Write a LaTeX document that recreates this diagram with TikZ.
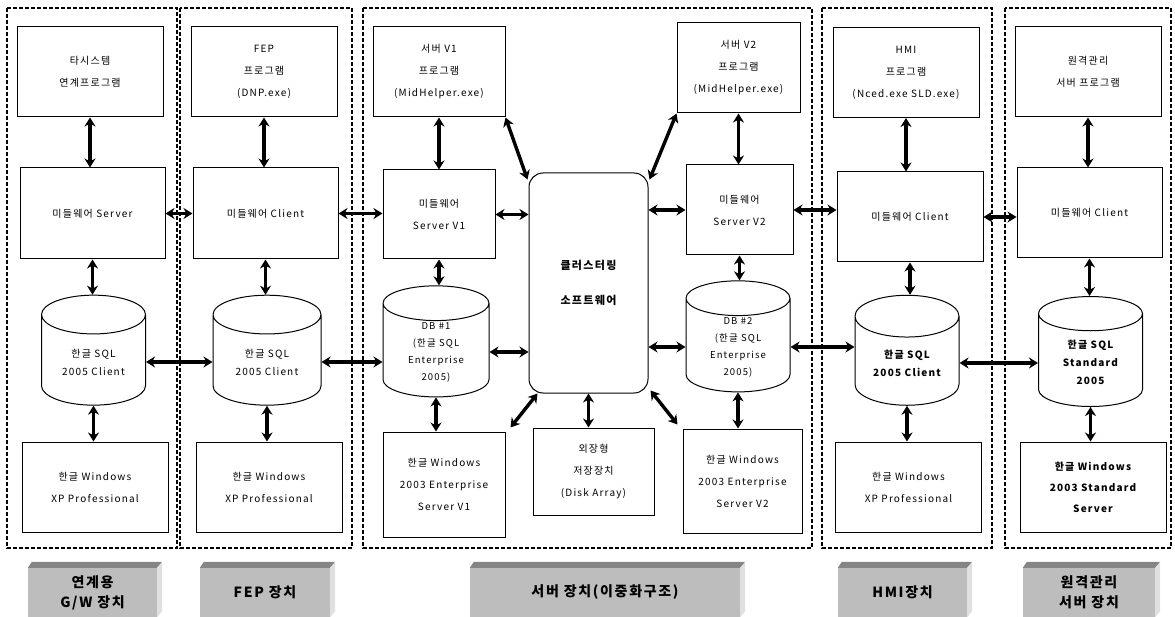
\documentclass[tikz,border=0pt]{standalone}
\usepackage{fontspec}
\usepackage{tikz}
\usetikzlibrary{arrows.meta,shapes.geometric}
\newfontfamily\kr[LetterSpace=12]{Noto Sans CJK KR}

\begin{document}
\begin{tikzpicture}[x=1pt,y=-1pt,
    box/.style={draw,line width=1pt,fill=white,align=center,inner sep=2pt,
        font=\kr\fontsize{10}{22}\selectfont,minimum width=146,minimum height=90},
    db/.style={draw,line width=1pt,fill=white,cylinder,shape border rotate=90,aspect=0.6,
        align=center,inner sep=1pt,font=\kr\fontsize{10}{18}\selectfont,
        minimum width=104,minimum height=110},
    dbl/.style={line width=3.4pt,{Stealth[length=9pt,width=11pt]}-{Stealth[length=9pt,width=11pt]}},
    grp/.style={line width=2.2pt,dash pattern=on 4pt off 2pt},
    lab/.style={fill=black!26,align=center,inner sep=0pt,minimum height=49,
        font=\kr\bfseries\fontsize{14}{20}\selectfont},
    labtop/.style={fill=black!48},
    labside/.style={fill=black!12}]
    \useasboundingbox (0,0) rectangle (1175,617);

    % device groups
    \draw[grp] (7,8) rectangle (177,548);
    \draw[grp] (180,8) rectangle (352,548);
    \draw[grp] (363,8) rectangle (812,548);
    \draw[grp] (822,8) rectangle (992,548);
    \draw[grp] (1005,8) rectangle (1171,548);

    % G/W
    \node[box] (t1) at (90,72) {타시스템\\연계프로그램};
    \node[box,minimum width=145,minimum height=91] (m1) at (92.5,213.5) {미들웨어 Server};
    \node[db] (d1) at (93.5,362) {한글 SQL\\2005 Client};
    \node[box] (w1) at (95,487) {한글 Windows\\XP Professional};

    % FEP
    \node[box] (t2) at (264,72) {FEP\\프로그램\\(DNP.exe)};
    \node[box,minimum width=145,minimum height=91] (m2) at (265.5,213.5) {미들웨어 Client};
    \node[db,minimum width=108] (d2) at (267,362) {한글 SQL\\2005 Client};
    \node[box] (w2) at (269,487) {한글 Windows\\XP Professional};

    % server (duplex)
    \node[box,minimum width=132] (t3) at (439,72) {서버 V1\\프로그램\\(MidHelper.exe)};
    \node[box,minimum width=112,minimum height=89] (m3) at (439,214.5) {미들웨어\\Server V1};
    \node[db,minimum width=106,font=\kr\fontsize{9.5}{17}\selectfont] (d3) at (436,352) {DB \#1\\(한글 SQL\\Enterprise\\2005)};
    \node[box,minimum width=122,minimum height=105] (w3) at (444,484.5) {한글 Windows\\2003 Enterprise\\Server V1};
    \node[box,rounded corners=14pt,minimum width=119,minimum height=220,font=\kr\bfseries\fontsize{11}{35}\selectfont] (c) at (588.5,283) {클러스터링\\소프트웨어};
    \node[box,minimum width=121,minimum height=87] (s) at (593.5,471.5) {외장형\\저장장치\\(Disk Array)};
    \node[box,minimum width=123] (t4) at (738.5,68) {서버 V2\\프로그램\\(MidHelper.exe)};
    \node[box,minimum width=107] (m4) at (739.5,210) {미들웨어\\Server V2};
    \node[db,font=\kr\fontsize{9.5}{17}\selectfont] (d4) at (738,347) {DB \#2\\(한글 SQL\\Enterprise\\2005)};
    \node[box,minimum width=119,minimum height=104] (w4) at (742.5,481) {한글 Windows\\2003 Enterprise\\Server V2};

    % HMI
    \node[box] (t5) at (906,72.5) {HMI\\프로그램\\(Nced.exe SLD.exe)};
    \node[box] (m5) at (910,217) {미들웨어 Client};
    \node[db,font=\kr\bfseries\fontsize{10}{18}\selectfont] (d5) at (907,363) {한글 SQL\\2005 Client};
    \node[box] (w5) at (908.5,487) {한글 Windows\\XP Professional};

    % remote management
    \node[box] (t6) at (1088,72) {원격관리\\서버 프로그램};
    \node[box,minimum width=145] (m6) at (1089.5,213) {미들웨어 Client};
    \node[db,font=\kr\bfseries\fontsize{10}{18}\selectfont] (d6) at (1090.5,362) {한글 SQL\\Standard\\2005};
    \node[box,font=\kr\bfseries\fontsize{10}{21}\selectfont] (w6) at (1093,487) {한글 Windows\\2003 Standard\\Server};

    % vertical links
    \foreach \t/\m/\d/\w in {t1/m1/d1/w1,t2/m2/d2/w2,t3/m3/d3/w3,t4/m4/d4/w4,t5/m5/d5/w5,t6/m6/d6/w6}{
        \draw[dbl] (\t.south) -- (\t.south |- \m.north);
        \draw[dbl] (\m.south) -- (\m.south |- \d.north);
        \draw[dbl] (\d.south) -- (\d.south |- \w.north);
    }

    % middleware links
    \draw[dbl] (m1.east) -- (m1.east -| m2.west);
    \draw[dbl] (m2.east) -- (m2.east -| m3.west);
    \draw[dbl] (m3.east) -- (m3.east -| c.west);
    \draw[dbl] (c.east |- m4.west) -- (m4.west);
    \draw[dbl] (m4.east) -- (m4.east -| m5.west);
    \draw[dbl] (m5.east) -- (m5.east -| m6.west);

    % db links
    \draw[dbl] (d1.east) -- (d1.east -| d2.west);
    \draw[dbl] (d2.east) -- (d2.east -| d3.west);
    \draw[dbl] (d3.east) -- (d3.east -| c.west);
    \draw[dbl] (c.east |- d4.west) -- (d4.west);
    \draw[dbl] (d4.east) -- (d4.east -| d5.west);
    \draw[dbl] (d5.east) -- (d5.east -| d6.west);

    % cluster links
    \draw[dbl] (t3.south east) -- ([shift={(-1,7)}]c.north west);
    \draw[dbl] (t4.south west) -- ([shift={(1,7)}]c.north east);
    \draw[dbl] ([shift={(9,0)}]c.south west) -- ([shift={(5,-4)}]w3.north east);
    \draw[dbl] (c.south) -- (c.south |- s.north);
    \draw[dbl] ([shift={(2,-3)}]c.south east) -- ([shift={(-5,-4)}]w4.north west);

    % device labels
    \node[lab,minimum width=129] (l1) at (92.5,592.5) {연계용\\G/W 장치};
    \node[lab,minimum width=130] (l2) at (265,592.5) {FEP 장치};
    \node[lab,minimum width=270] (l3) at (605,592.5) {서버 장치(이중화구조)};
    \node[lab,minimum width=129] (l4) at (902.5,592.5) {HMI장치};
    \node[lab,minimum width=132] (l5) at (1089,592.5) {원격관리\\서버 장치};
    \foreach \l in {l1,l2,l3,l4,l5}{
        \fill[labtop] (\l.north west) -- ++(4,-6) -- ([shift={(5,-6)}]\l.north east) -- (\l.north east) -- cycle;
        \fill[labside] (\l.north east) -- ([shift={(5,-6)}]\l.north east) -- ([shift={(5,-6)}]\l.south east) -- (\l.south east) -- cycle;
    }
\end{tikzpicture}
\end{document}
